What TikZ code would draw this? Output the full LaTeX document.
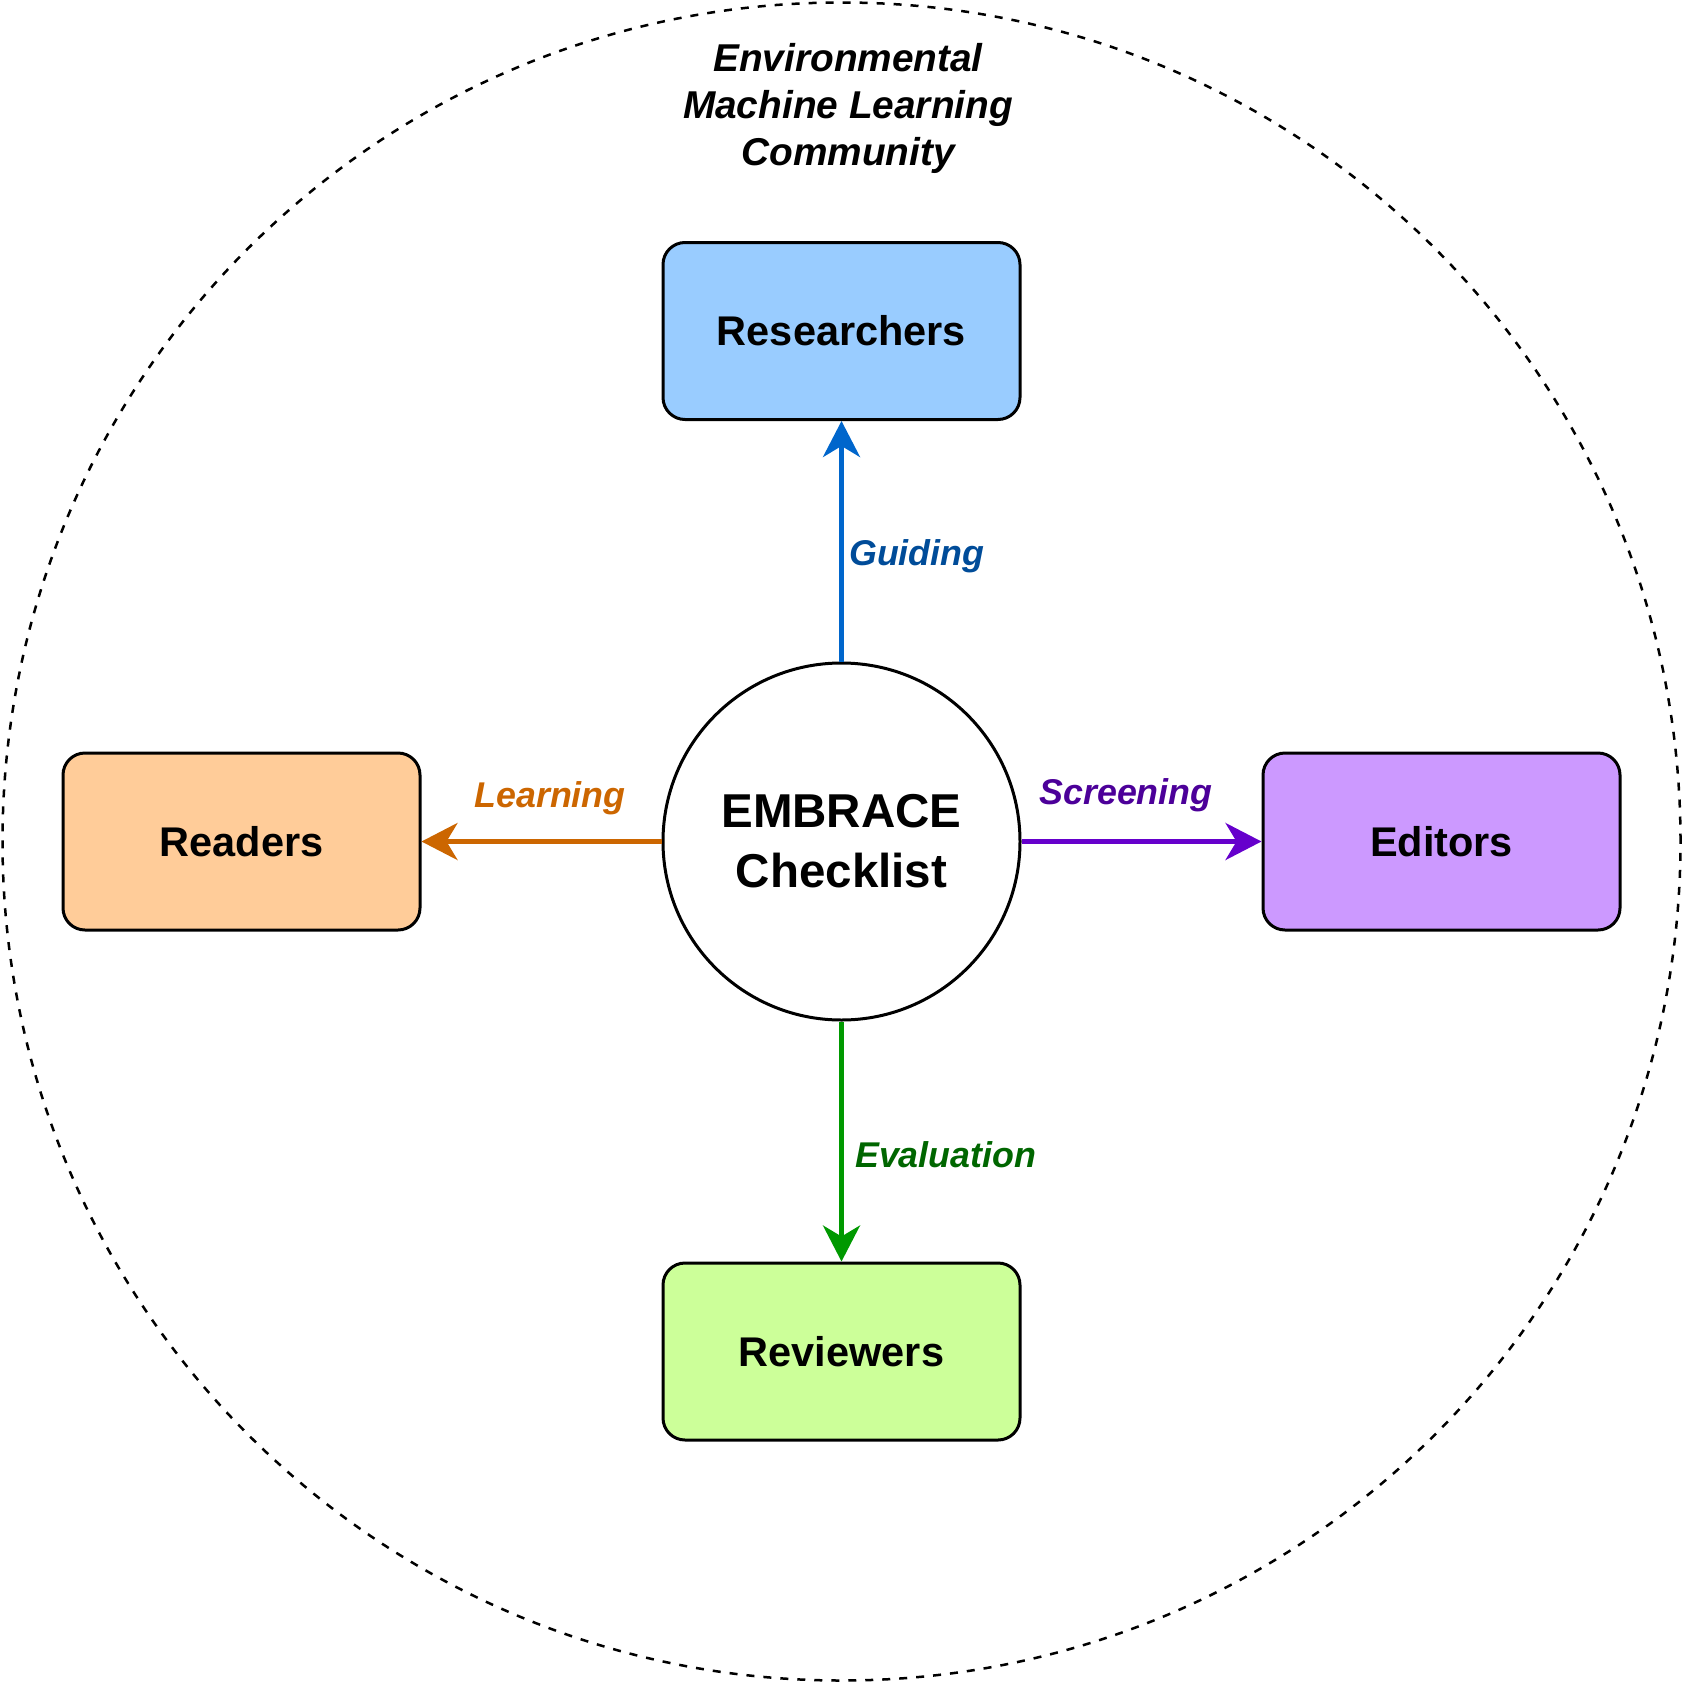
\documentclass[tikz,border=0pt]{standalone}
\usepackage{fontspec}
\setmainfont{Liberation Sans}
\usetikzlibrary{arrows.meta}
\definecolor{resfill}{HTML}{99CCFF}
\definecolor{readfill}{HTML}{FFCC99}
\definecolor{edfill}{HTML}{CC99FF}
\definecolor{revfill}{HTML}{CCFF99}
\definecolor{blueline}{HTML}{0066CC}
\definecolor{orangeline}{HTML}{CC6600}
\definecolor{purpleline}{HTML}{6600CC}
\definecolor{greenline}{HTML}{009900}
\definecolor{bluetext}{HTML}{004C99}
\definecolor{purpletext}{HTML}{4C0099}
\definecolor{greentext}{HTML}{006600}
\tikzset{
  rolebox/.style={draw=black, line width=3pt, rounded corners=22pt,
    minimum width=357pt, minimum height=177pt, inner sep=0pt,
    font=\fontsize{41.5pt}{49pt}\selectfont\bfseries},
  hub/.style={draw=black, line width=3pt, circle, minimum size=357pt, inner sep=0pt,
    align=center, font=\fontsize{47.5pt}{60pt}\selectfont\bfseries, fill=white},
  flow/.style={line width=4.7pt, -{Stealth[length=36pt, width=37pt, inset=11pt]}},
  flowlabel/.style={font=\fontsize{35.8pt}{42pt}\selectfont\bfseries\itshape, inner sep=0pt},
}
\begin{document}
\begin{tikzpicture}[x=1pt, y=-1pt]
\useasboundingbox (0,0) rectangle (1683,1683);
\node[draw=black, line width=2.5pt, dash pattern=on 8pt off 9pt, circle,
  minimum size=1678pt, inner sep=0pt] (community) at (841.5,841.5) {};
\node[align=center, font=\fontsize{38.8pt}{47pt}\selectfont\bfseries\itshape, inner sep=0pt]
  (title) at (848,108) {Environmental\\Machine Learning\\Community};
\node[hub] (hub) at (841.5,841.5) {EMBRACE\\Checklist};
\node[rolebox, fill=resfill] (res) at (841.5,331) {Researchers};
\node[rolebox, fill=readfill] (read) at (241.5,841.5) {Readers};
\node[rolebox, fill=edfill] (ed) at (1441.5,841.5) {Editors};
\node[rolebox, fill=revfill] (rev) at (841.5,1351.5) {Reviewers};
\draw[flow, blueline] (hub.north) -- (res.south);
\draw[flow, orangeline] (hub.west) -- (read.east);
\draw[flow, purpleline] (hub.east) -- (ed.west);
\draw[flow, greenline] (hub.south) -- (rev.north);
\node[flowlabel, text=bluetext, anchor=west] (lguide) at (849,556) {Guiding};
\node[flowlabel, text=orangeline] (llearn) at (550,798) {Learning};
\node[flowlabel, text=purpletext] (lscreen) at (1126,795) {Screening};
\node[flowlabel, text=greentext, anchor=west] (leval) at (855,1155) {Evaluation};
\end{tikzpicture}
\end{document}
